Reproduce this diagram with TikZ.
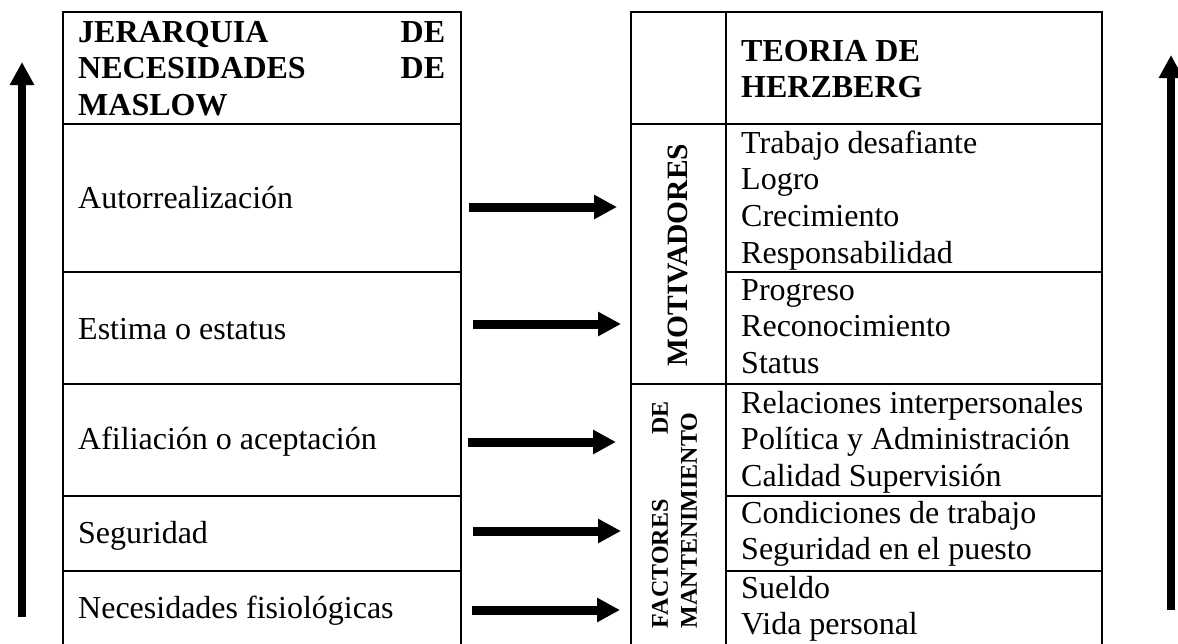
\documentclass[tikz,border=0pt]{standalone}
\usepackage{fontspec}
\setmainfont{Liberation Serif}
\usetikzlibrary{arrows.meta}
\newcommand\myBody{\fontsize{32}{36.7}\selectfont}
\newcommand\myHead{\fontsize{32}{36.5}\selectfont\bfseries}
\newcommand\myVert{\fontsize{29.5}{34}\selectfont\bfseries}
\newcommand\mySmall{\fontsize{24}{29}\selectfont\bfseries}
\begin{document}
\begin{tikzpicture}[x=1pt,y=-1pt,
  grid/.style={line width=2pt, line cap=rect},
  lbl/.style={font=\myBody, inner sep=0pt, anchor=base west},
  blk/.style={font=\myBody, inner sep=0pt, anchor=north west, align=left},
  hdr/.style={font=\myHead, inner sep=0pt, anchor=north west, align=left},
  link/.style={line width=9pt, -{Triangle[length=23pt,width=23pt]}},
  rise/.style={line width=8pt, -{Triangle[length=23pt,width=23pt]}}]
\useasboundingbox (0,0) rectangle (1178,643);
\fill[white] (0,0) rectangle (1178,643);
% left table
\draw[grid] (63,12) rectangle (461,648);
\foreach \yy in {124,272,384,496,571} \draw[grid] (63,\yy) -- (461,\yy);
% right table
\draw[grid] (631,12) rectangle (1102,648);
\draw[grid] (726,12) -- (726,648);
\draw[grid] (631,124) -- (1102,124);
\draw[grid] (631,384) -- (1102,384);
\foreach \yy in {272,496,571} \draw[grid] (726,\yy) -- (1102,\yy);
% left texts
\node[hdr, text width=367pt] (hmas) at (78,16.5) {\strut JERARQUIA\hfill DE\\NECESIDADES\hfill DE\\MASLOW};
\node[lbl] (l1) at (78,208) {Autorrealización};
\node[lbl] (l2) at (78,339) {Estima o estatus};
\node[lbl] (l3) at (78,449) {Afiliación o aceptación};
\node[lbl] (l4) at (78,543) {Seguridad};
\node[lbl] (l5) at (78,618) {Necesidades fisiológicas};
% right texts
\node[hdr] (hher) at (741,35.5) {\strut TEORIA DE\\HERZBERG};
\node[blk] (r1) at (741,127.3) {\strut Trabajo desafiante\\Logro\\Crecimiento\\Responsabilidad};
\node[blk] (r2) at (741,274.3) {\strut Progreso\\Reconocimiento\\Status};
\node[blk] (r3) at (741,387.3) {\strut Relaciones interpersonales\\Política y Administración\\Calidad Supervisión};
\node[blk] (r4) at (741,497.3) {\strut Condiciones de trabajo\\Seguridad en el puesto};
\node[blk] (r5) at (741,572.3) {\strut Sueldo\\Vida personal};
\node[rotate=90, font=\myVert, inner sep=0pt] (motiv) at (678,255) {MOTIVADORES};
\node[rotate=90, font=\mySmall, inner sep=0pt, text width=227pt, align=left] (mant) at (674.5,514.5) {FACTORES\hfill DE\\MANTENIMIENTO};
% arrow end points
\coordinate (a1s) at (469,207); \coordinate (a1e) at (617,207);
\coordinate (a2s) at (473,324); \coordinate (a2e) at (621,324);
\coordinate (a3s) at (468,442); \coordinate (a3e) at (616,442);
\coordinate (a4s) at (473,531); \coordinate (a4e) at (621,531);
\coordinate (a5s) at (472,610); \coordinate (a5e) at (620,610);
\coordinate (ls) at (22,617); \coordinate (le) at (22,62);
\coordinate (rs) at (1171,610); \coordinate (re) at (1171,55);
\draw[link] (a1s) -- (a1e);
\draw[link] (a2s) -- (a2e);
\draw[link] (a3s) -- (a3e);
\draw[link] (a4s) -- (a4e);
\draw[link] (a5s) -- (a5e);
\draw[rise] (ls) -- (le);
\draw[rise] (rs) -- (re);
\end{tikzpicture}
\end{document}
